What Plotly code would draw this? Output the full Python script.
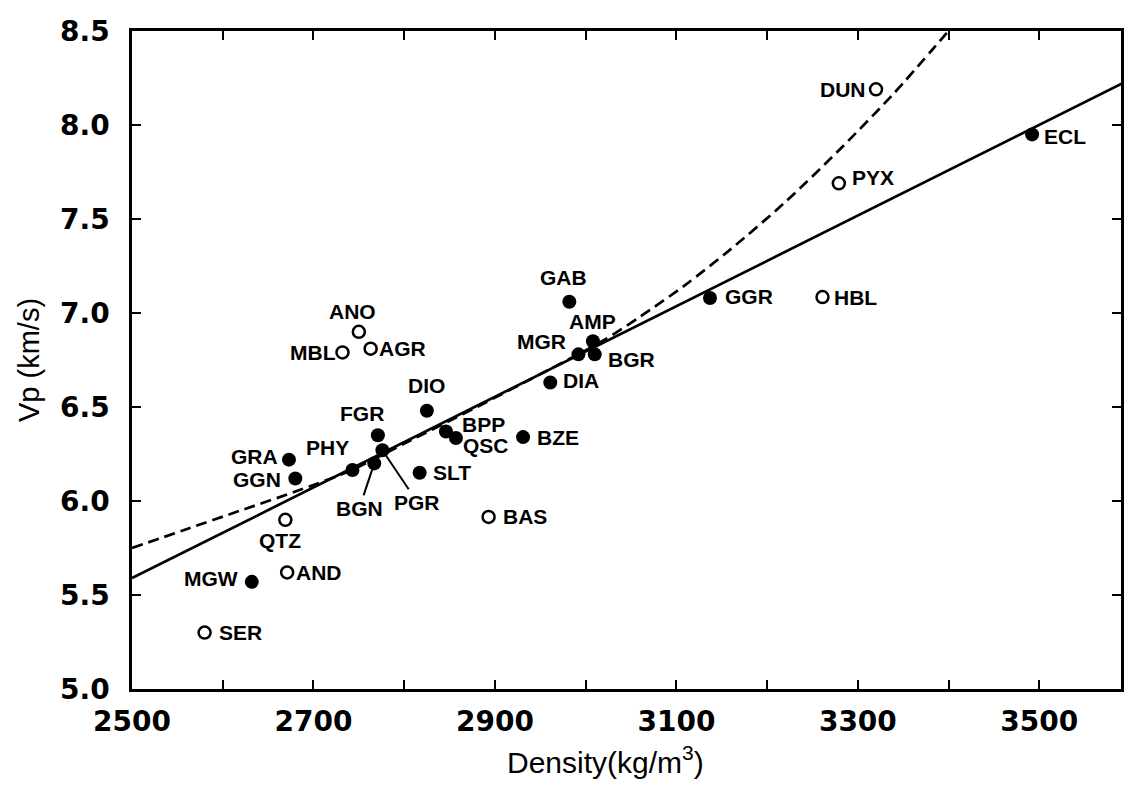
import plotly.graph_objects as go

# Rock samples: density (kg/m^3) and P-wave velocity (km/s)
rock = ["SER", "MGW", "AND", "QTZ", "GRA", "GGN", "PHY", "BGN", "PGR", "FGR",
        "DIO", "SLT", "BPP", "QSC", "BZE", "BAS", "GAB", "MGR", "AMP", "BGR",
        "DIA", "GGR", "HBL", "PYX", "DUN", "ECL", "ANO", "MBL", "AGR"]
density = [2580, 2632, 2671, 2669, 2673, 2680, 2743, 2767, 2776, 2771,
           2825, 2817, 2846, 2857, 2931, 2893, 2982, 2992, 3008, 3010,
           2961, 3137, 3261, 3279, 3320, 3492, 2750, 2732, 2763]
vp = [5.30, 5.57, 5.62, 5.90, 6.22, 6.12, 6.165, 6.20, 6.27, 6.35,
      6.48, 6.15, 6.37, 6.335, 6.34, 5.915, 7.06, 6.78, 6.85, 6.78,
      6.63, 7.08, 7.085, 7.69, 8.19, 7.95, 6.90, 6.79, 6.81]
is_open = [True, False, True, True, False, False, False, False, False, False,
           False, False, False, False, False, True, False, False, False, False,
           False, False, True, True, True, False, True, True, True]

# Linear regression line (end points)
fit_density = [2500, 3591]
fit_vp = [5.59, 8.22]

# Dashed reference curve read along its path
curve_density = [2500, 2560, 2620, 2680, 2740, 2800, 2880, 2960, 3020, 3060,
                 3110, 3160, 3220, 3280, 3340, 3398]
curve_vp = [5.75, 5.85, 5.95, 6.05, 6.16, 6.305, 6.50, 6.70, 6.855, 6.98,
            7.15, 7.34, 7.59, 7.87, 8.17, 8.49]

# Label placement: (xanchor, xshift px, yshift px)
label_place = {
    "SER": ("left", 12, 0), "MGW": ("right", -12, 3), "AND": ("left", 7, 0),
    "QTZ": ("center", -5, -21), "GRA": ("right", -9, 3), "GGN": ("right", -12, -1),
    "PHY": ("center", -25, 22), "FGR": ("center", -16, 22), "DIO": ("center", 0, 25),
    "SLT": ("left", 11, 0), "BPP": ("left", 14, 7), "QSC": ("left", 5, -7),
    "BZE": ("left", 12, 0), "BAS": ("left", 12, 0), "GAB": ("center", -6, 24),
    "MGR": ("right", -10, 13), "AMP": ("center", 0, 20), "BGR": ("left", 11, -5),
    "DIA": ("left", 11, 2), "GGR": ("left", 13, 1), "HBL": ("left", 10, 0),
    "PYX": ("left", 11, 6), "DUN": ("right", -8, 0), "ECL": ("left", 10, -2),
    "ANO": ("center", -6, 20), "MBL": ("right", -5, 0), "AGR": ("left", 6, 0),
}
# Labels joined to their point by a leader line: (ax, ay) offsets in px
leader = {"BGN": (-15, 45), "PGR": (35, 52)}

label_family = "Liberation Sans, Arial, sans-serif"
tick_family = "DejaVu Sans, sans-serif"

fig = go.Figure()

fig.add_trace(go.Scatter(
    x=curve_density, y=curve_vp, mode="lines",
    line=dict(color="black", width=2.7, dash="11px,6px", shape="spline", smoothing=0.8),
    hoverinfo="skip", showlegend=False,
))
fig.add_trace(go.Scatter(
    x=fit_density, y=fit_vp, mode="lines",
    line=dict(color="black", width=2.7),
    hoverinfo="skip", showlegend=False,
))

open_x = [d for d, o in zip(density, is_open) if o]
open_y = [v for v, o in zip(vp, is_open) if o]
fill_x = [d for d, o in zip(density, is_open) if not o]
fill_y = [v for v, o in zip(vp, is_open) if not o]

fig.add_trace(go.Scatter(
    x=fill_x, y=fill_y, mode="markers",
    marker=dict(symbol="circle", size=14, color="black", line=dict(width=0)),
    showlegend=False,
))
fig.add_trace(go.Scatter(
    x=open_x, y=open_y, mode="markers",
    marker=dict(symbol="circle-open", size=12, color="black", line=dict(width=2.5)),
    showlegend=False,
))

label_font = dict(family=label_family, size=21, color="black", weight="bold")
for name, d, v in zip(rock, density, vp):
    if name in leader:
        ax, ay = leader[name]
        fig.add_annotation(x=d, y=v, text=name, showarrow=True, arrowhead=0,
                           arrowwidth=2, arrowcolor="black", ax=ax, ay=ay,
                           standoff=0, font=label_font)
    else:
        xa, xs, ys = label_place[name]
        fig.add_annotation(x=d, y=v, text=name, showarrow=False, xanchor=xa,
                           yanchor="middle", xshift=xs, yshift=ys, font=label_font)

# x-axis title, set slightly left of the plot centre
fig.add_annotation(
    xref="paper", yref="paper", x=0.479, y=-0.108, xanchor="center", yanchor="middle",
    text="Density(kg/m<sup>3</sup>)", showarrow=False,
    font=dict(family=label_family, size=30, color="black"),
)

axis_common = dict(
    showline=True, linecolor="black", linewidth=2.5, mirror="allticks",
    ticks="inside", ticklen=9, tickwidth=1.6, tickcolor="black",
    showgrid=False, zeroline=False,
    tickfont=dict(family=tick_family, size=28, color="black", weight="bold"),
)

fig.update_xaxes(
    range=[2500, 3590], tickmode="linear", tick0=2500, dtick=200,
    minor=dict(dtick=100, ticks="inside", ticklen=9, tickwidth=1.6, tickcolor="black", showgrid=False),
    ticklabelstandoff=6,
    **axis_common,
)
fig.update_yaxes(
    range=[5.0, 8.5], tickmode="linear", tick0=5.0, dtick=0.5, tickformat=".1f",
    ticklabelstandoff=14,
    title=dict(text="Vp (km/s)", standoff=12,
               font=dict(family=label_family, size=29, color="black")),
    **axis_common,
)

fig.update_layout(
    width=1126, height=787,
    margin=dict(l=132, r=2, t=31, b=98),
    paper_bgcolor="white", plot_bgcolor="white",
    showlegend=False,
)

fig.write_html("out.html")
